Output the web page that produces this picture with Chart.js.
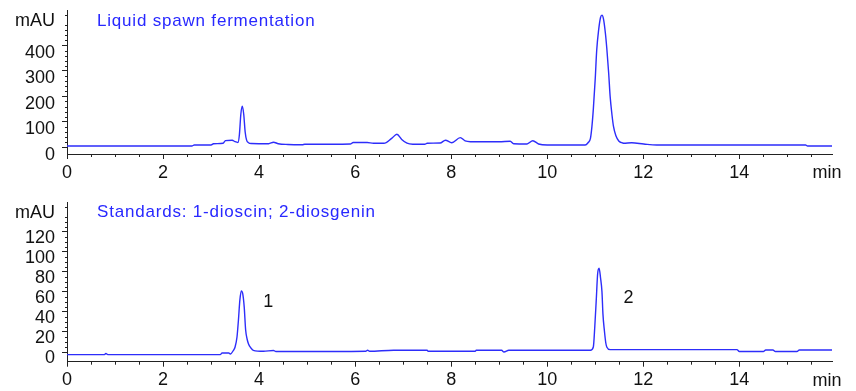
<!DOCTYPE html>
<html>
<head>
<meta charset="utf-8">
<script src="https://cdn.jsdelivr.net/npm/chart.js"></script>
<style>
  body { margin: 0; background: #fff; }
  #wrap { position: relative; width: 856px; height: 391px; }
  canvas { position: absolute; left: 0; }
  #topChart { top: 0; }
  #bottomChart { top: 190px; }
</style>
</head>
<body>
<div id="wrap">
  <canvas id="topChart" width="856" height="190"></canvas>
  <canvas id="bottomChart" width="856" height="201"></canvas>
</div>
<script>
// retention time axis (min)
let timeMax = 15.93;
let xMajorTicks = [0, 2, 4, 6, 8, 10, 12, 14];

// top panel: liquid spawn fermentation
let topTitle = "Liquid spawn fermentation";
let topTime = [0, 2.6, 2.65, 3.0, 3.05, 3.25, 3.3, 3.44, 3.5, 3.56, 3.59, 3.62, 3.65, 3.68, 3.71, 3.74, 3.78, 3.84,
    4.2, 4.3, 4.4, 4.6, 4.9, 4.95, 5.5, 5.9, 5.96, 6.25, 6.38, 6.6, 6.76, 6.87, 6.97, 7.08, 7.2, 7.45, 7.5, 7.77,
    7.88, 8.01, 8.19, 8.29, 8.4, 9.0, 9.23, 9.3, 9.58, 9.7, 9.82, 10.0, 10.79, 10.85, 10.9, 10.93, 10.96, 11.0,
    11.03, 11.07, 11.11, 11.14, 11.17, 11.21, 11.24, 11.28, 11.31, 11.35, 11.38, 11.43, 11.49, 11.55, 11.59,
    11.76, 12.01, 12.28, 15.38, 15.42, 15.93];
let topSignal = [5, 5, 9, 9, 14, 16, 26, 28, 22, 19, 50, 130, 161, 130, 60, 28, 18, 15,
    14, 20, 14, 11, 10, 12, 12, 13, 19, 19, 16, 16, 35, 51, 31, 16, 12, 12, 16, 17,
    28, 18, 38, 25, 22, 22, 24, 14, 13, 26, 13, 9, 9, 18, 35, 80, 150, 270,
    380, 460, 510, 519, 505, 450, 390, 290, 200, 125, 82, 45, 25, 18, 16,
    18, 13, 9, 9, 5, 5];
let topYTicks = [0, 100, 200, 300, 400];
let topYMin = -26.3, topYMax = 539.3, topUnitAt = 500;

// bottom panel: standards
let bottomTitle = "Standards: 1-dioscin; 2-diosgenin";
let bottomTime = [0, 0.78, 0.81, 0.85, 3.19, 3.23, 3.37, 3.4, 3.47, 3.5, 3.54, 3.57, 3.6, 3.63, 3.66, 3.69, 3.72,
    3.75, 3.78, 3.83, 3.88, 4.09, 4.3, 4.35, 5.5, 6.22, 6.26, 6.3, 6.8, 7.5, 7.52, 8.5, 8.52, 9.05, 9.1, 9.2,
    10.9, 10.96, 10.99, 11.02, 11.05, 11.08, 11.11, 11.14, 11.16, 11.19, 11.22, 11.24, 11.31, 13.95, 14.0,
    14.5, 14.55, 14.7, 14.75, 15.2, 15.25, 15.93];
let bottomSignal = [-2.6, -2.6, -1.5, -2.6, -2.6, -1, -1, -2, 2, 5, 15, 32, 52, 61, 58, 45, 22,
    13, 8, 4, 1.7, 0.7, 1.5, 0.5, 0.5, 0.7, 1.8, 0.7, 1.7, 1.7, 0.7, 0.7, 1.7, 1.7, 0, 1.7,
    1.7, 5, 25, 51, 78, 83.5, 74, 60, 38, 21.5, 9, 5, 2.4, 2.4, 0.5,
    0.5, 2, 2, 0.5, 0.5, 2, 2];
let bottomYTicks = [0, 20, 40, 60, 80, 100, 120];
let bottomYMin = -9.65, bottomYMax = 149.6, bottomUnitAt = 140;
let peakLabels = ["1", "2"];
let peakLabelTime = [4.19, 11.69];
let peakLabelValue = [50, 54];

let fontFamily = "'Liberation Sans', Arial, sans-serif";
let lineBlue = "rgb(45, 45, 250)";
let axisColor = "#222";

// titles, unit labels, "min", peak numbers and minor ticks
let panelText = {
    id: "panelText",
    afterDraw(chart, args, opts) {
        let ctx = chart.ctx;
        let xs = chart.scales.x;
        let ys = chart.scales.y;
        ctx.save();

        // minor ticks
        ctx.strokeStyle = axisColor;
        ctx.lineWidth = 1;
        ctx.beginPath();
        for (let v = 0.5; v < timeMax; v += 0.5) {
            if (v % 2 === 0) continue;
            let px = Math.round(xs.getPixelForValue(v)) + 0.5;
            ctx.moveTo(px, xs.top);
            ctx.lineTo(px, xs.top + 3);
        }
        for (let v = opts.minorStep; v < ys.max; v += opts.minorStep) {
            if (Math.abs(v / opts.majorStep - Math.round(v / opts.majorStep)) < 1e-6) continue;
            let py = Math.round(ys.getPixelForValue(v)) + 0.5;
            ctx.moveTo(ys.right - 2, py);
            ctx.lineTo(ys.right, py);
        }
        ctx.stroke();

        // y unit at top of axis
        ctx.fillStyle = "#111";
        ctx.font = "18px " + fontFamily;
        ctx.textAlign = "right";
        ctx.textBaseline = "middle";
        ctx.fillText("mAU", ys.right - 12, ys.getPixelForValue(opts.unitAt) + 1);

        // x unit at right end
        ctx.textAlign = "center";
        ctx.fillText("min", 827, xs.top + 19.5);

        // peak numbers
        (opts.peaks || []).forEach((p) => {
            ctx.fillText(p.text, xs.getPixelForValue(p.t), ys.getPixelForValue(p.v));
        });

        // panel title
        ctx.fillStyle = "rgb(40, 40, 255)";
        ctx.font = "17px " + fontFamily;
        ctx.letterSpacing = "0.8px";
        ctx.textAlign = "left";
        ctx.fillText(opts.title, 97, opts.titleY);
        ctx.restore();
    }
};

function makePanel(canvas, time, signal, yMin, yMax, yTicks, labelOffset, padTop, xHeight, textOpts) {
    return new Chart(canvas, {
        type: "line",
        data: {
            datasets: [{
                data: time.map((t, i) => ({ x: t, y: signal[i] })),
                borderColor: lineBlue,
                borderWidth: 1.4,
                pointRadius: 0,
                fill: false,
                cubicInterpolationMode: "monotone"
            }]
        },
        options: {
            responsive: false,
            animation: false,
            devicePixelRatio: 1,
            layout: { padding: { left: 0, right: 24, top: padTop, bottom: 0 } },
            plugins: {
                legend: { display: false },
                tooltip: { enabled: false },
                panelText: textOpts
            },
            scales: {
                x: {
                    type: "linear",
                    min: 0,
                    max: timeMax,
                    afterBuildTicks: (s) => { s.ticks = xMajorTicks.map((v) => ({ value: v })); },
                    afterFit: (s) => { s.height = xHeight; s.paddingLeft = 0; s.paddingRight = 0; },
                    grid: { drawOnChartArea: false, tickLength: 5, color: axisColor },
                    border: { color: axisColor, width: 1 },
                    ticks: {
                        autoSkip: false,
                        maxRotation: 0,
                        padding: 3,
                        color: "#111",
                        font: { family: fontFamily, size: 18 }
                    }
                },
                y: {
                    min: yMin,
                    max: yMax,
                    afterBuildTicks: (s) => { s.ticks = yTicks.map((v) => ({ value: v })); },
                    // fixed axis width, and no extra room for the label overhang
                    afterFit: (s) => { s.width = 67; s.paddingTop = 0; s.paddingBottom = 0; },
                    grid: { drawOnChartArea: false, tickLength: 5, color: axisColor },
                    border: { color: axisColor, width: 1 },
                    ticks: {
                        padding: 7,
                        labelOffset: labelOffset,
                        color: "#111",
                        font: { family: fontFamily, size: 18 }
                    }
                }
            }
        },
        plugins: [panelText]
    });
}

makePanel(document.querySelector("#topChart"), topTime, topSignal, topYMin, topYMax, topYTicks, 7.5, 10, 36, {
    title: topTitle, titleY: 21, unitAt: topUnitAt, majorStep: 100, minorStep: 20
});

makePanel(document.querySelector("#bottomChart"), bottomTime, bottomSignal, bottomYMin, bottomYMax, bottomYTicks, 6.5, 12, 29.3, {
    title: bottomTitle, titleY: 22, unitAt: bottomUnitAt, majorStep: 20, minorStep: 5,
    peaks: peakLabels.map((txt, i) => ({ text: txt, t: peakLabelTime[i], v: peakLabelValue[i] }))
});
</script>
</body>
</html>
